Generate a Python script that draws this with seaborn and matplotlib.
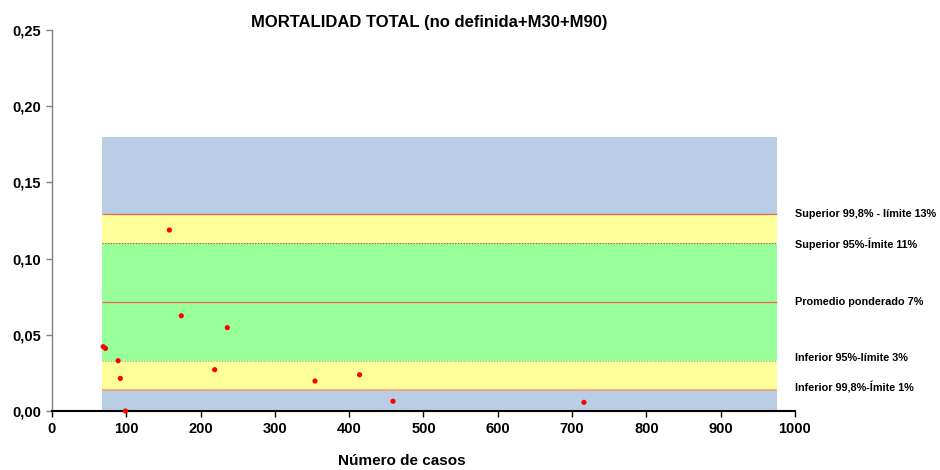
import numpy as np
import pandas as pd
import matplotlib
matplotlib.use("Agg")
import matplotlib.pyplot as plt
import seaborn as sns

# data
casos = [69, 72, 89, 92, 99, 158, 174, 219, 236, 354, 414, 459, 716]
mortalidad = [0.0422, 0.0411, 0.0330, 0.0214, 0.0, 0.1188, 0.0625, 0.0271,
              0.0547, 0.0197, 0.0238, 0.0064, 0.0057]

band_x = [67, 976]
band_top = 0.18
sup_998 = 0.129
sup_95 = 0.110
promedio = 0.0715
inf_95 = 0.0328
inf_998 = 0.0138

etiquetas = ["Superior 99,8% - límite 13%", "Superior 95%-ĺmite 11%",
             "Promedio ponderado 7%", "Inferior 95%-límite 3%",
             "Inferior 99,8%-ĺmite 1%"]
etiqueta_y = [sup_998, sup_95, promedio, inf_95 + 0.002, inf_998 + 0.0015]

sns.set_theme(style="white")
plt.rcParams["font.family"] = ["Liberation Sans", "DejaVu Sans"]
plt.rcParams["text.color"] = "black"
plt.rcParams["axes.labelcolor"] = "black"
plt.rcParams["xtick.color"] = "black"
plt.rcParams["ytick.color"] = "black"

fig = plt.figure(figsize=(9.4, 4.7), dpi=100)
ax = fig.add_axes([0.0553, 0.1255, 0.7904, 0.8105])

# control bands
ax.fill_between(band_x, 0, band_top, color="#B9CDE5", lw=0, zorder=1)
ax.fill_between(band_x, inf_998, sup_998, color="#FFFF99", lw=0, zorder=1)
ax.fill_between(band_x, inf_95, sup_95, color="#99FF99", lw=0, zorder=1)

ax.hlines([sup_998, promedio], band_x[0], band_x[1], color="#F0604A", lw=0.9, zorder=2)
ax.hlines(inf_998, band_x[0], band_x[1], color="#F5A080", lw=1.2, zorder=2)
ax.hlines(sup_95, band_x[0], band_x[1], color="#E03020", lw=0.8, linestyles=(0, (1, 1.5)), zorder=2)
ax.hlines(inf_95, band_x[0], band_x[1], color="#B0A090", lw=0.8, linestyles=(0, (1, 1.5)), zorder=2)

df = pd.DataFrame({"casos": casos, "mortalidad": mortalidad})
sns.scatterplot(data=df, x="casos", y="mortalidad", color="red", s=14,
                edgecolor="none", ax=ax, zorder=5, clip_on=False)

ax.set_xlim(0, 1000)
ax.set_ylim(0, 0.25)
ax.set_xticks(np.arange(0, 1001, 100))
ax.set_yticks(np.arange(0, 0.251, 0.05))
ax.set_yticklabels([f"{v:.2f}".replace(".", ",") for v in np.arange(0, 0.251, 0.05)])
for lab in ax.get_xticklabels() + ax.get_yticklabels():
    lab.set_fontweight("bold")
    lab.set_fontsize(10.5)
ax.tick_params(axis="both", direction="out", length=4, width=1,
               bottom=True, left=True, pad=4)
ax.tick_params(axis="y", color="#808080")

for side in ["top", "right"]:
    ax.spines[side].set_visible(False)
ax.spines["left"].set_color("#808080")
ax.spines["left"].set_linewidth(1)
ax.spines["bottom"].set_color("black")
ax.spines["bottom"].set_linewidth(1.5)

ax.set_xlabel("Número de casos", fontsize=11, fontweight="bold")
ax.xaxis.set_label_coords(0.471, -0.112)
ax.set_ylabel("")
fig.text(0.457, 0.953, "MORTALIDAD TOTAL (no definida+M30+M90)", ha="center",
         va="center", fontsize=12, fontweight="bold")

for txt, yv in zip(etiquetas, etiqueta_y):
    ax.text(1000, yv, txt, ha="left", va="center", fontsize=7.8,
            fontweight="bold", clip_on=False)

fig.savefig("out.png", dpi=100)
